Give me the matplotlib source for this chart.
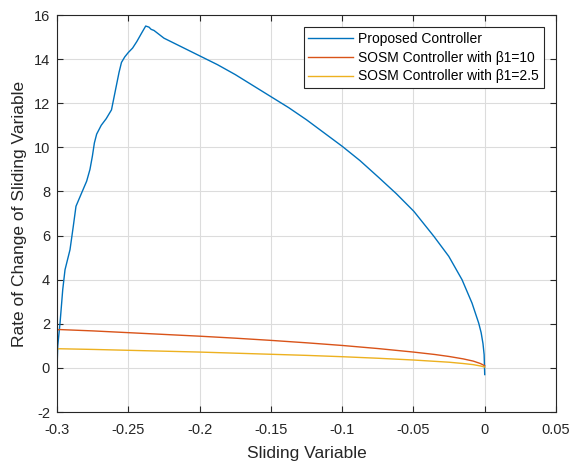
import matplotlib.pyplot as plt
import numpy as np

plt.rcParams['font.family'] = ['Liberation Sans', 'DejaVu Sans']
plt.rcParams['axes.unicode_minus'] = False

# Proposed controller
s_prop = [-0.3, -0.2995, -0.2979, -0.296, -0.2944, -0.2909, -0.2886, -0.2867, -0.2827, -0.2792,
          -0.2769, -0.2752, -0.2738, -0.2722, -0.269, -0.2655, -0.2618, -0.259, -0.2565,
          -0.2548, -0.2525, -0.25, -0.247, -0.244, -0.2405, -0.2378, -0.2355, -0.234, -0.232,
          -0.225, -0.2125, -0.2, -0.1875, -0.175, -0.1625, -0.15, -0.1375, -0.125, -0.1125,
          -0.1, -0.0875, -0.0741, -0.062, -0.0497, -0.0357, -0.0252, -0.0159,
          -0.0089, -0.0042, -0.0025, -0.0012, -0.0004, 0.0]
ds_prop = [0.0, 1.0, 2.03, 3.55, 4.45, 5.36, 6.42, 7.33, 7.94, 8.47,
           9.0, 9.6, 10.2, 10.6, 11.0, 11.3, 11.7, 12.6, 13.4,
           13.85, 14.1, 14.3, 14.5, 14.8, 15.2, 15.5, 15.45, 15.35, 15.3,
           14.95, 14.55, 14.15, 13.75, 13.3, 12.8, 12.3, 11.8, 11.25, 10.65,
           10.05, 9.4, 8.62, 7.9, 7.1, 5.97, 5.06, 4.0,
           2.94, 2.03, 1.6, 1.1, 0.6, -0.3]

# SOSM controller, beta1 = 10
s_b10 = [-0.3, -0.3, -0.298, -0.275, -0.25, -0.225, -0.2, -0.175, -0.15, -0.125, -0.1,
         -0.075, -0.05, -0.035, -0.025, -0.015, -0.008, -0.003, 0.0]
ds_b10 = [0.0, 1.72, 1.74, 1.68, 1.6, 1.52, 1.44, 1.35, 1.25, 1.14, 1.02,
          0.88, 0.72, 0.61, 0.52, 0.41, 0.31, 0.2, 0.1]

# SOSM controller, beta1 = 2.5
s_b25 = [-0.3, -0.3, -0.298, -0.275, -0.25, -0.225, -0.2, -0.175, -0.15, -0.125, -0.1,
         -0.075, -0.05, -0.035, -0.025, -0.015, -0.008, -0.003, 0.0]
ds_b25 = [0.0, 0.86, 0.87, 0.84, 0.8, 0.76, 0.72, 0.67, 0.62, 0.57, 0.51,
          0.44, 0.36, 0.3, 0.26, 0.2, 0.15, 0.09, 0.04]

fig = plt.figure(figsize=(5.72, 4.63), dpi=100)
ax = fig.add_axes([0.0997, 0.110, 0.8723, 0.8576])

ax.plot(s_prop, ds_prop, color='#0072BD', lw=1.0, label='Proposed Controller')
ax.plot(s_b10, ds_b10, color='#D95319', lw=1.0, label='SOSM Controller with β1=10')
ax.plot(s_b25, ds_b25, color='#EDB120', lw=1.0, label='SOSM Controller with β1=2.5')

ax.set_xlim(-0.3, 0.05)
ax.set_ylim(-2, 16)
ax.set_xticks(np.arange(-0.3, 0.051, 0.05))
ax.set_xticklabels(['-0.3', '-0.25', '-0.2', '-0.15', '-0.1', '-0.05', '0', '0.05'])
ax.set_yticks(np.arange(-2, 17, 2))
ax.set_yticklabels([str(v) for v in range(-2, 17, 2)])
ax.grid(True, color='#dcdcdc', lw=0.8)
ax.set_axisbelow(True)
ax.tick_params(direction='in', length=4, labelsize=10.5, colors='#262626', top=True, right=True,
               labeltop=False, labelright=False)
ax.tick_params(axis='x', pad=8)
ax.tick_params(axis='y', pad=5)
for sp in ax.spines.values():
    sp.set_color('#262626')
    sp.set_linewidth(0.8)

ax.set_xlabel('Sliding Variable', fontsize=12.5, color='#262626', labelpad=6)
ax.set_ylabel('Rate of Change of Sliding Variable', fontsize=12.5, color='#262626', labelpad=5)

leg = ax.legend(loc='upper right', bbox_to_anchor=(0.976, 0.97), fontsize=10, fancybox=False,
                framealpha=1, edgecolor='#262626', handlelength=3.2, borderpad=0.35,
                labelspacing=0.35, handletextpad=0.4, borderaxespad=0)
leg.get_frame().set_linewidth(0.8)

plt.savefig('out.png', dpi=100)
